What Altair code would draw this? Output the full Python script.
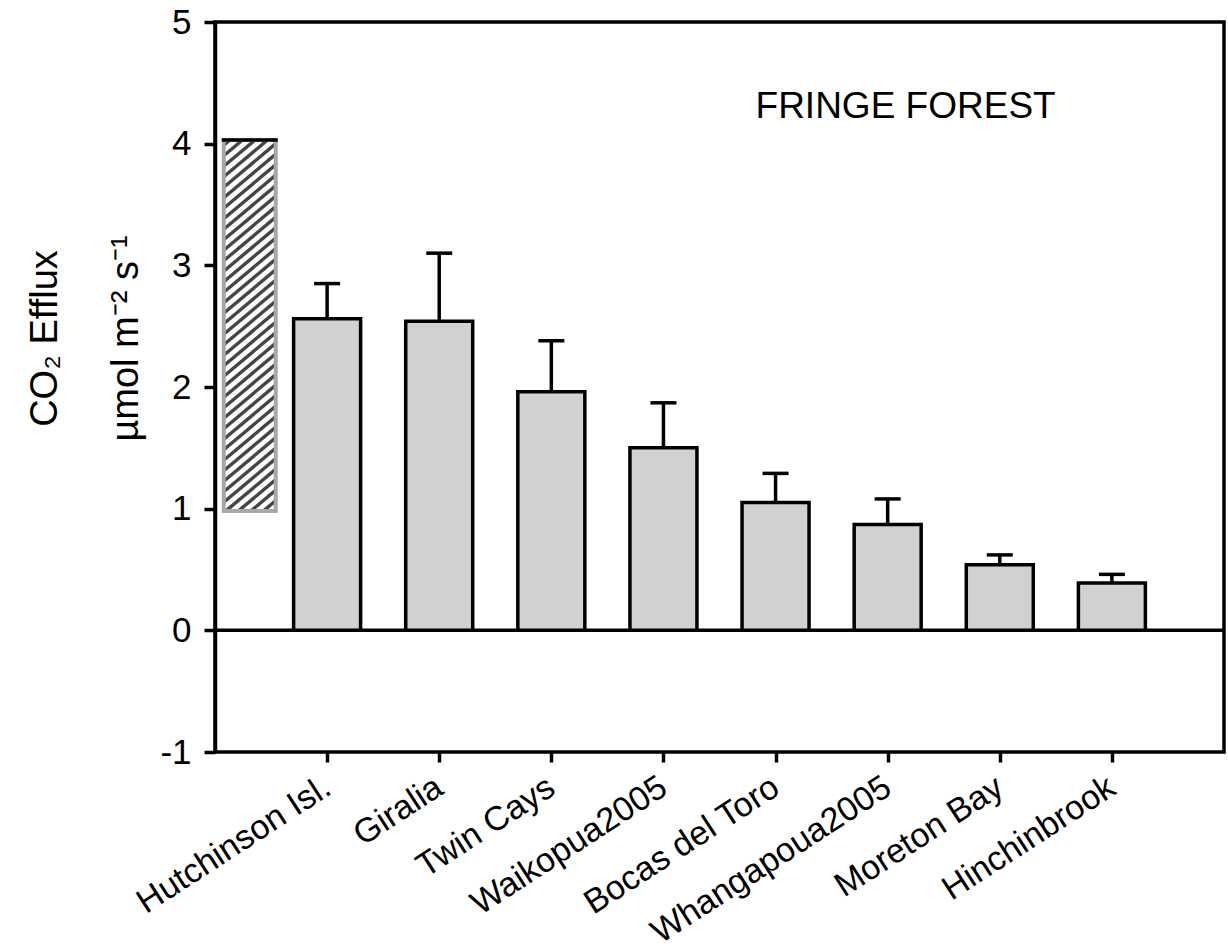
import json
import math
import altair as alt
import pandas as pd

# ---- data ----
sites = ["Hutchinson Isl.", "Giralia", "Twin Cays", "Waikopua2005",
         "Bocas del Toro", "Whangapoua2005", "Moreton Bay", "Hinchinbrook"]
efflux = [2.56, 2.54, 1.96, 1.50, 1.05, 0.87, 0.54, 0.39]
errors = [0.29, 0.56, 0.42, 0.37, 0.24, 0.21, 0.08, 0.07]
range_low = [0.98]
range_high = [4.03]
y_ticks = [-1, 0, 1, 2, 3, 4, 5]
panel_label = ["FRINGE FOREST"]

# ---- layout ----
W, H = 1009, 730
X_DOMAIN = [-1, 8]
Y_DOMAIN = [-1, 5]
PX_X = W / (X_DOMAIN[1] - X_DOMAIN[0])
PX_Y = H / (Y_DOMAIN[1] - Y_DOMAIN[0])
RANGE_POS = -0.69
RANGE_W = 52
FONT = "Liberation Sans"

df = pd.DataFrame({"site": sites, "pos": list(range(len(sites))),
                   "value": efflux, "err": errors})
df["upper"] = df["value"] + df["err"]

rng = pd.DataFrame({"pos": [RANGE_POS], "low": range_low, "high": range_high})

# hatch lines (decoration) clipped into the range box, in pixel space then mapped to data
hatch = []
k = math.tan(math.radians(40))
spacing = 10.5
hp = (range_high[0] - range_low[0]) * PX_Y
xl, xr = -RANGE_W / 2, RANGE_W / 2
c = -k * RANGE_W
while c < hp:
    xa = max(xl, xl + (0 - c) / k)
    xb = min(xr, xl + (hp - c) / k)
    if xb > xa:
        ya = (xa - xl) * k + c
        yb = (xb - xl) * k + c
        hatch.append({"pos": RANGE_POS + xa / PX_X, "pos2": RANGE_POS + xb / PX_X,
                      "value": range_low[0] + ya / PX_Y, "value2": range_low[0] + yb / PX_Y})
    c += spacing
hatch_df = pd.DataFrame(hatch)

label_df = pd.DataFrame({"pos": [5.16], "value": [4.30], "t": panel_label})
zero_df = pd.DataFrame({"value": [0]})

xs = alt.Scale(domain=X_DOMAIN, nice=False, zero=False, padding=0)
ys = alt.Scale(domain=Y_DOMAIN, nice=False, zero=False, padding=0)

label_expr = json.dumps(sites) + "[datum.value]"

x_axis = alt.Axis(values=list(range(len(sites))), labelExpr=label_expr,
                  tickSize=10, tickWidth=3.5, tickColor="black",
                  domain=False, grid=False, title=None,
                  labelAngle=327, labelAlign="right", labelBaseline="middle",
                  labelFont=FONT, labelFontSize=34, labelColor="black",
                  labelPadding=22, labelLimit=600, labelOverlap=False)
y_axis = alt.Axis(values=y_ticks, labelExpr="'' + datum.value", tickSize=11,
                  tickWidth=3.5, tickColor="black", domainColor="black",
                  domainWidth=3.5, grid=False, labelFont=FONT, labelFontSize=35,
                  labelColor="black", labelPadding=13,
                  title=["CO\u2082  Efflux", "\u00b5mol m\u207b\u00b2 s\u207b\u00b9"],
                  titleFont=FONT, titleFontSize=38, titleFontWeight="normal",
                  titleColor="black", titleLineHeight=81, titleAngle=270,
                  titleAlign="center", titleBaseline="middle",
                  titleX=-170, titleY=316)

X = alt.X("pos:Q", scale=xs, axis=x_axis)
Y = alt.Y("value:Q", scale=ys, axis=y_axis)

zero = alt.Chart(zero_df).mark_rule(color="black", strokeWidth=3.5).encode(y=Y)

bars = alt.Chart(df).mark_bar(orient="vertical", size=67, fill="#d0d1d3",
                              stroke="black", strokeWidth=3.5).encode(
    x=X, y=Y, y2=alt.datum(0))

err_line = alt.Chart(df).mark_rule(color="black", strokeWidth=3.5).encode(
    x=X, y=Y, y2="upper:Q")

err_cap = alt.Chart(df).mark_rule(color="black", strokeWidth=3.5,
                                  xOffset=-13, x2Offset=13).encode(
    x=X, x2="pos:Q", y=alt.Y("upper:Q", scale=ys, axis=y_axis))

range_fill = alt.Chart(rng).mark_bar(orient="vertical", size=RANGE_W, fill="white",
                                     strokeWidth=0).encode(
    x=X, y=alt.Y("low:Q", scale=ys, axis=y_axis), y2="high:Q")

hatch_lines = alt.Chart(hatch_df).mark_rule(color="#454545", strokeWidth=3.4).encode(
    x=X, x2="pos2:Q", y=Y, y2="value2:Q")

range_border = alt.Chart(rng).mark_bar(orient="vertical", size=RANGE_W, fillOpacity=0,
                                       stroke="#a8a8a8", strokeWidth=4).encode(
    x=X, y=alt.Y("low:Q", scale=ys, axis=y_axis), y2="high:Q")

range_top = alt.Chart(rng).mark_rule(color="black", strokeWidth=3.5,
                                     xOffset=-(RANGE_W / 2 + 2),
                                     x2Offset=RANGE_W / 2 + 2).encode(
    x=X, x2="pos:Q", y=alt.Y("high:Q", scale=ys, axis=y_axis))

text = alt.Chart(label_df).mark_text(font=FONT, fontSize=37, color="black",
                                     align="center", baseline="middle").encode(
    x=X, y=Y, text="t:N")

chart = alt.layer(zero, range_fill, hatch_lines, range_border, range_top,
                  bars, err_line, err_cap, text).properties(
    width=W, height=H,
    autosize=alt.AutoSizeParams(type="none"),
    padding={"left": 215, "top": 22, "right": 4, "bottom": 197},
    background="white",
).configure_view(stroke="black", strokeWidth=3.5)

chart.save("out.html", embed_options={"renderer": "svg", "actions": False})
